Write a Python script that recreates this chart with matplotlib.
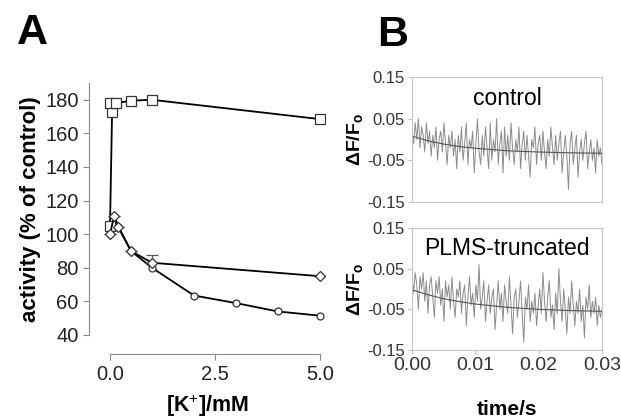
import numpy as np
import matplotlib.pyplot as plt

plt.rcParams['font.family'] = ['Liberation Sans', 'DejaVu Sans']
plt.rcParams['mathtext.fontset'] = 'custom'
plt.rcParams['mathtext.rm'] = 'Liberation Sans'
plt.rcParams['mathtext.bf'] = 'Liberation Sans:bold'

# ---- panel A data ----
sq_x = [0.0, 0.05, 0.0, 0.15, 0.5, 1.0, 5.0]
sq_y = [105, 173, 178, 178, 179.5, 180, 168.5]
dia_x = [0.0, 0.1, 0.2, 0.5, 1.0, 5.0]
dia_y = [100, 111, 104.5, 90, 83, 75]
dia_err = [0, 0, 0, 0, 4.5, 0]
circ_x = [0.0, 0.2, 0.5, 1.0, 2.0, 3.0, 4.0, 5.0]
circ_y = [100, 104, 90, 80, 63.5, 59, 54, 51.5]

# ---- panel B data (dF/Fo traces, 0-0.03 s) ----
ctrl = [0.02, -0.01, 0.04, 0.00, 0.05, -0.02, 0.03, 0.01, -0.03, 0.04,
        -0.01, 0.02, -0.04, 0.01, -0.02, 0.03, -0.05, 0.00, 0.02, -0.03,
        0.04, -0.01, -0.06, 0.01, -0.02, 0.02, -0.04, 0.00, -0.07, 0.01,
        -0.03, 0.03, -0.05, -0.01, 0.04, -0.06, 0.00, -0.02, 0.02, -0.08,
        -0.01, 0.05, -0.03, -0.06, 0.01, -0.04, 0.03, -0.02, -0.07, 0.04,
        -0.05, 0.00, -0.03, 0.05, -0.06, -0.01, 0.02, -0.08, 0.03, -0.04,
        0.01, -0.05, 0.04, -0.02, -0.06, 0.00, -0.03, 0.03, -0.07, -0.01,
        0.02, -0.05, 0.01, -0.04, -0.09, 0.00, -0.02, 0.03, -0.06, -0.01,
        0.01, -0.05, 0.02, -0.03, -0.07, 0.00, -0.04, 0.03, -0.02, -0.06,
        0.01, -0.05, -0.01, 0.02, -0.08, -0.03, 0.01, -0.04, -0.12, -0.01,
        0.02, -0.06, -0.02, 0.01, -0.09, -0.03, 0.00, -0.05, -0.01, 0.02,
        -0.07, -0.03, 0.00, -0.05, -0.02, -0.08, 0.00, -0.04, -0.02, -0.06]
ctrl_fit_t = [0.0, 0.0025, 0.005, 0.0075, 0.01, 0.015, 0.02, 0.025, 0.03]
ctrl_fit = [0.008, -0.003, -0.011, -0.017, -0.021, -0.027, -0.030, -0.032, -0.033]

trunc = [0.03, -0.01, 0.04, 0.01, -0.05, 0.03, 0.00, 0.04, -0.03, 0.02,
         -0.06, 0.01, 0.03, -0.02, -0.07, 0.02, -0.01, 0.03, -0.04, 0.00,
         -0.08, 0.02, -0.02, 0.01, -0.05, 0.03, -0.03, -0.07, 0.00, -0.02,
         0.02, -0.06, -0.01, 0.01, -0.09, -0.02, 0.03, -0.04, -0.01, -0.07,
         0.01, -0.03, 0.06, -0.05, -0.02, 0.02, -0.08, -0.03, 0.01, -0.06,
         -0.02, 0.00, -0.10, -0.04, 0.02, -0.05, -0.01, -0.08, 0.01, -0.03,
         -0.06, 0.03, -0.04, -0.11, -0.02, 0.00, -0.07, -0.03, 0.02, -0.06,
         -0.13, -0.02, -0.05, 0.01, -0.08, -0.03, -0.06, -0.01, -0.09, -0.04,
         0.00, -0.06, 0.04, -0.03, -0.08, -0.02, 0.02, -0.07, -0.04, -0.10,
         -0.01, -0.06, 0.05, -0.03, -0.08, 0.00, -0.05, -0.11, -0.02, -0.06,
         0.02, -0.04, -0.09, -0.03, -0.06, 0.00, -0.08, -0.04, -0.12, -0.02,
         -0.05, 0.01, -0.07, -0.03, -0.06, -0.02, -0.09, -0.04, -0.07, -0.05]
trunc_fit_t = [0.0, 0.0025, 0.005, 0.0075, 0.01, 0.015, 0.02, 0.025, 0.03]
trunc_fit = [-0.002, -0.014, -0.024, -0.031, -0.037, -0.045, -0.050, -0.053, -0.055]

axis_grey = '#8a8a8a'
frame_grey = '#c4c4c4'

fig = plt.figure(figsize=(6.21, 4.18), dpi=100)

# ---------------- panel A ----------------
axA = fig.add_axes([89/621, 1 - 335/418, (325 - 89)/621, (335 - 83)/418])
mkw = dict(color='black', lw=1.3, mfc='white', mec='#333333', mew=0.9)
axA.plot(circ_x, circ_y, marker='o', ms=5, **mkw)
axA.errorbar(dia_x, dia_y, yerr=[np.zeros(len(dia_err)), dia_err], marker='D', ms=5.5,
             capsize=4, ecolor='#555555', elinewidth=0.8, **mkw)
axA.plot(sq_x, sq_y, marker='s', ms=6.5, **mkw)

axA.set_xlim(-0.5, 5.12)
axA.set_ylim(40, 190)
axA.set_yticks(range(40, 181, 20))
axA.set_xticks([0.0, 2.5, 5.0])
axA.set_xticklabels(['0.0', '2.5', '5.0'])
for s in ['top', 'right']:
    axA.spines[s].set_visible(False)
axA.spines['left'].set_color(axis_grey)
axA.spines['bottom'].set_color(axis_grey)
axA.spines['bottom'].set_position(('outward', 14))
axA.spines['bottom'].set_bounds(0, 5)
axA.tick_params(colors='#222222', labelsize=14.5, length=4)
axA.tick_params(axis='both', color=axis_grey)
axA.set_ylabel('activity (% of control)', fontsize=16, fontweight='bold', labelpad=3)
axA.set_xlabel('[K$^{+}$]/mM', fontsize=15.5, fontweight='bold', labelpad=6)

fig.text(17/621, 1 - 44/418, 'A', fontsize=31, fontweight='bold')
fig.text(377/621, 1 - 46/418, 'B', fontsize=31, fontweight='bold')

# ---------------- panel B ----------------
def trace_ax(rect, y, fit_t, fit_y, title, show_x):
    ax = fig.add_axes(rect)
    t = np.linspace(0, 0.03, len(y))
    ax.plot(t, y, color='#8c8c8c', lw=0.7)
    ax.plot(fit_t, fit_y, color='#555555', lw=0.8)
    ax.set_xlim(0, 0.03)
    ax.set_ylim(-0.15, 0.15)
    ax.set_yticks([-0.15, -0.05, 0.05, 0.15])
    ax.set_yticklabels(['-0.15', '-0.05', '0.05', '0.15'])
    ax.set_xticks([0.0, 0.01, 0.02, 0.03])
    for s in ax.spines.values():
        s.set_color(frame_grey)
    ax.tick_params(colors='#333333', labelsize=12, length=3, color=frame_grey, pad=2)
    if show_x:
        ax.set_xticklabels(['0.00', '0.01', '0.02', '0.03'], fontsize=14)
    else:
        ax.tick_params(axis='x', labelbottom=False, length=0)
    ax.text(0.5, 0.83, title, transform=ax.transAxes, ha='center', va='center',
            fontsize=16.5)
    ax.set_ylabel(r'$\mathbf{\Delta F/F_o}$', fontsize=14, labelpad=2)
    return ax

axB1 = trace_ax([412/621, 1 - 202/418, 190/621, 125/418], ctrl, ctrl_fit_t, ctrl_fit,
                'control', False)
axB2 = trace_ax([412/621, 1 - 350/418, 190/621, 122/418], trunc, trunc_fit_t, trunc_fit,
                'PLMS-truncated', True)
axB2.set_xlabel('time/s', fontsize=15, fontweight='bold', labelpad=19)

fig.savefig('out.png', dpi=100)
